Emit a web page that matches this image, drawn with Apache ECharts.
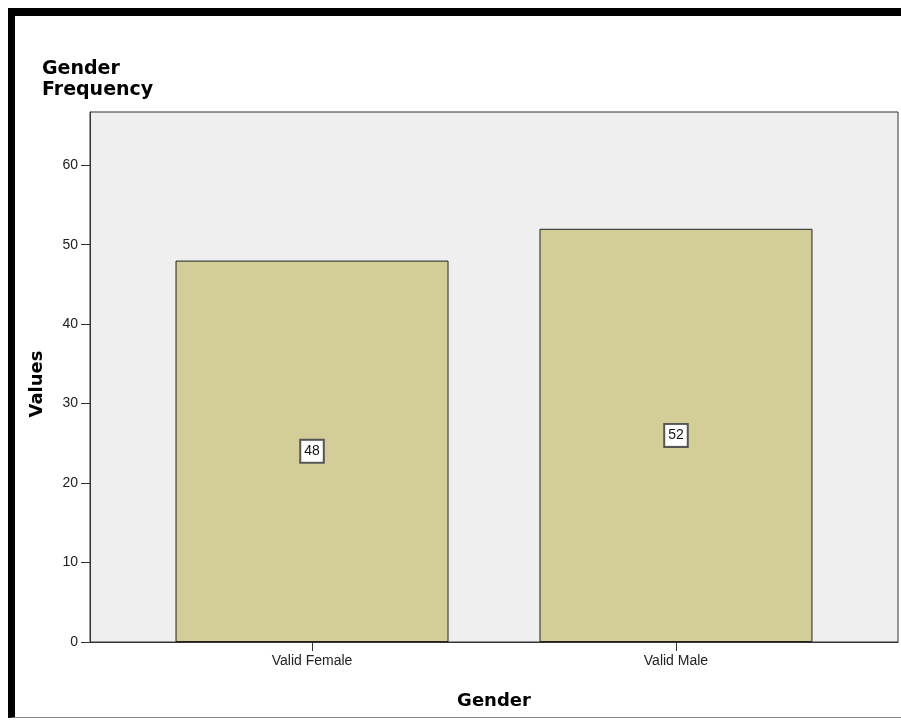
<!DOCTYPE html>
<html>
<head>
<meta charset="utf-8">
<script src="https://cdn.jsdelivr.net/npm/echarts@6/dist/echarts.min.js"></script>
<style>
  body { margin: 0; background: #fff; }
  #chart { position: absolute; left: 0; top: 0; width: 901px; height: 720px; }
  #frame {
    position: absolute; left: 8px; top: 8px; width: 886px; height: 701px;
    border-left: 7px solid #000; border-top: 8px solid #000; border-bottom: 1px solid #888;
    pointer-events: none;
  }
</style>
</head>
<body>
<div id="chart"></div>
<div id="frame"></div>
<script>
var categories = ['Valid Female', 'Valid Male'];
var frequency = [48, 52];
var yTicks = [0, 10, 20, 30, 40, 50, 60];

var dom = document.getElementById('chart');
var myChart = echarts.init(dom);
var font = 'Liberation Sans, Arial, sans-serif';
var boldFont = 'DejaVu Sans, sans-serif';

var barData = categories.map(function (c, i) {
    return [i, frequency[i]];
});
var catIdx = categories.map(function (c, i) { return i; });

option = {
    animation: false,
    title: {
        text: 'Gender\nFrequency',
        left: 37,
        top: 54,
        textStyle: {
            fontFamily: boldFont,
            fontSize: 19,
            lineHeight: 21,
            fontWeight: 'bold',
            color: '#000'
        }
    },
    grid: {
        left: 90,
        right: 3,
        top: 112,
        bottom: 78,
        show: true,
        backgroundColor: '#efefef',
        borderColor: '#333',
        borderWidth: 1
    },
    xAxis: {
        type: 'value',
        min: -0.61,
        max: 1.61,
        name: 'Gender',
        nameLocation: 'middle',
        nameGap: 50,
        nameTextStyle: {
            fontFamily: boldFont,
            fontSize: 18,
            fontWeight: 'bold',
            color: '#000'
        },
        splitLine: { show: false },
        axisLine: { onZero: false, lineStyle: { color: '#333' } },
        axisTick: {
            customValues: catIdx,
            length: 9,
            lineStyle: { color: '#333' }
        },
        axisLabel: {
            customValues: catIdx,
            formatter: function (v) { return categories[Math.round(v)]; },
            fontFamily: font,
            fontSize: 14,
            color: '#222',
            margin: 12
        }
    },
    yAxis: {
        type: 'value',
        min: 0,
        max: 66.7,
        name: 'Values',
        nameLocation: 'middle',
        nameGap: 44,
        nameTextStyle: {
            fontFamily: boldFont,
            fontSize: 18,
            fontWeight: 'bold',
            color: '#000',
            padding: [0, 14, 0, 0]
        },
        splitLine: { show: false },
        axisLine: { show: true, onZero: false, lineStyle: { color: '#333' } },
        axisTick: {
            show: true,
            customValues: yTicks,
            length: 9,
            lineStyle: { color: '#333' }
        },
        axisLabel: {
            customValues: yTicks,
            fontFamily: font,
            fontSize: 14,
            color: '#222',
            margin: 12
        }
    },
    series: [{
        type: 'bar',
        data: barData,
        barWidth: 273,
        itemStyle: {
            color: '#d3cd98',
            borderColor: '#222',
            borderWidth: 1
        },
        label: {
            show: true,
            position: 'inside',
            formatter: function (p) { return p.value[1]; },
            fontFamily: font,
            fontSize: 14,
            color: '#111',
            backgroundColor: '#fff',
            borderColor: '#555',
            borderWidth: 2,
            padding: [4, 3, 3, 3]
        }
    }]
};
if (option && typeof option === "object") {
    myChart.setOption(option, true);
}
</script>
</body>
</html>
